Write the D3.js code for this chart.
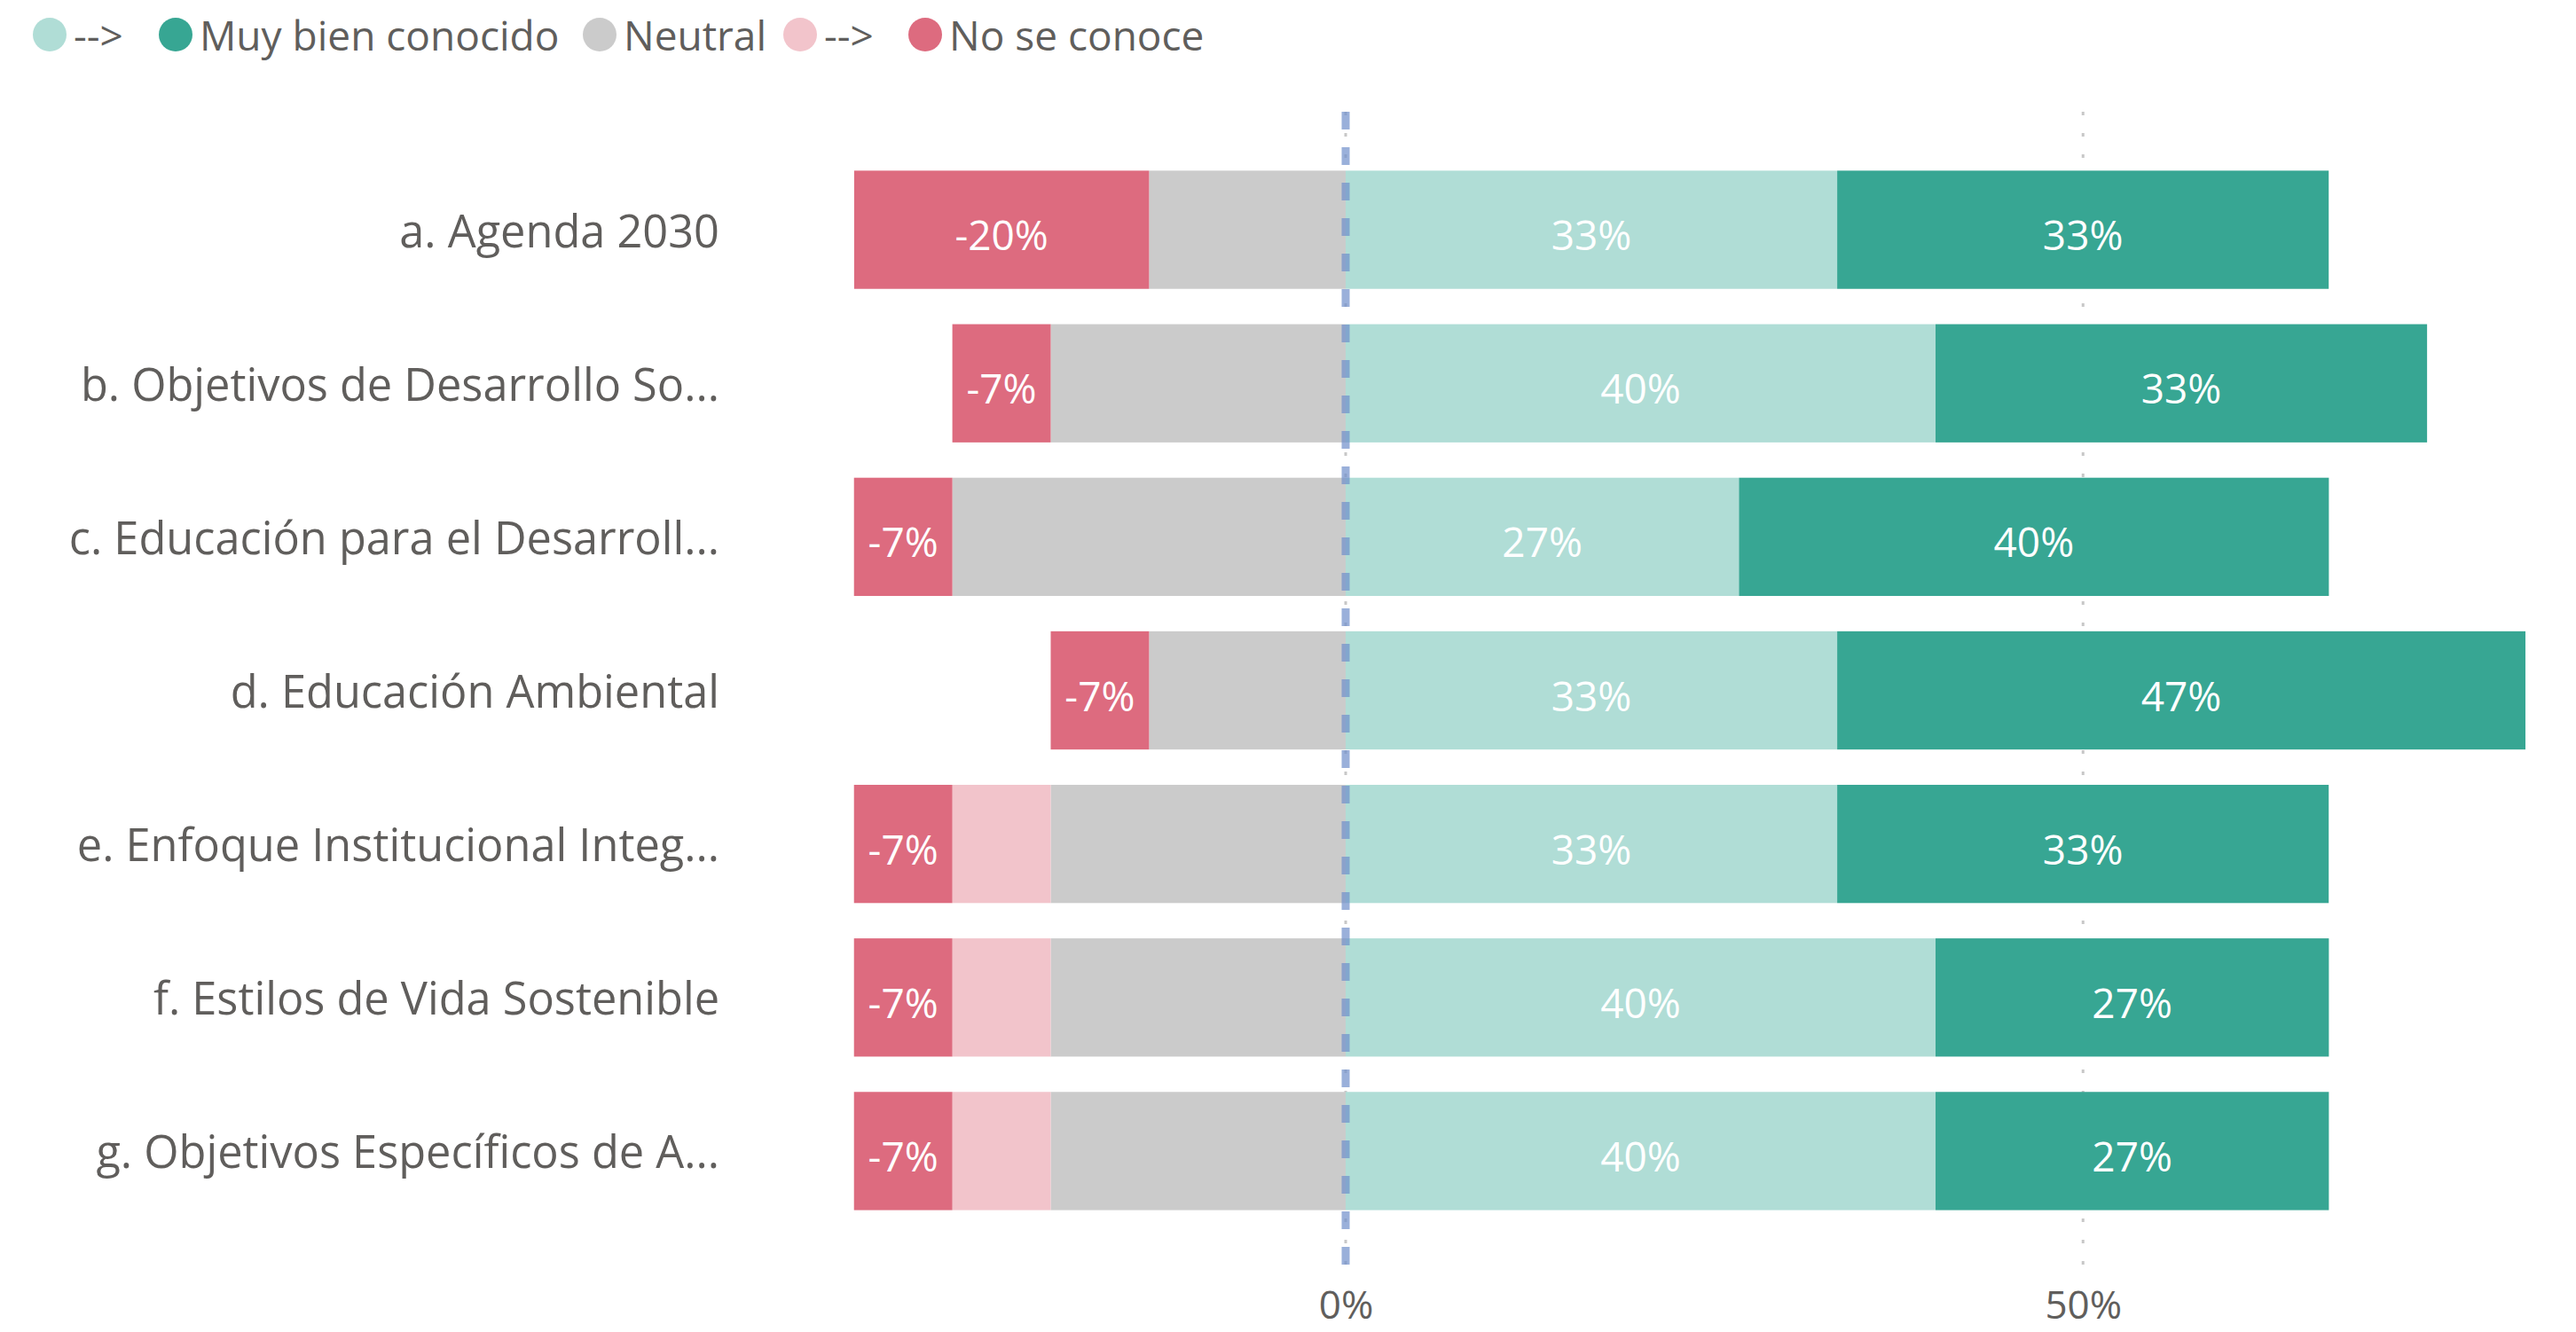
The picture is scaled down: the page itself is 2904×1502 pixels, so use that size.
<!DOCTYPE html>
<html>
<head>
<meta charset="utf-8">
<script src="https://cdn.jsdelivr.net/npm/d3@7"></script>
<style>
  html, body { margin: 0; padding: 0; background: #ffffff; }
  svg { display: block; }
  text { font-family: "Segoe UI", "Open Sans", "Noto Sans", sans-serif; }
</style>
</head>
<body>
<script>
// ---- data (percent of respondents) ----
const categories = [
  "a. Agenda 2030",
  "b. Objetivos de Desarrollo So...",
  "c. Educación para el Desarroll...",
  "d. Educación Ambiental",
  "e. Enfoque Institucional Integ...",
  "f. Estilos de Vida Sostenible",
  "g. Objetivos Específicos de A..."
];
const noSeConoce   = [20, 6.67, 6.67, 6.67, 6.67, 6.67, 6.67];
const arrowNeg     = [0, 0, 0, 0, 6.67, 6.67, 6.67];
const neutral      = [13.33, 20, 26.67, 13.33, 20, 20, 20];
const arrowPos     = [33.33, 40, 26.67, 33.33, 33.33, 40, 40];
const muyBien      = [33.33, 33.33, 40, 46.67, 33.33, 26.67, 26.67];
const tickValues   = [0, 50];
const legendItems  = ["-->", "Muy bien conocido", "Neutral", "-->", "No se conoce"];

const colors = {
  arrowPos: "#B0DDD6",
  muyBien: "#37A693",
  neutral: "#CBCBCB",
  arrowNeg: "#F2C4CB",
  noSeConoce: "#DD6B7F"
};
const legendColors = [colors.arrowPos, colors.muyBien, colors.neutral, colors.arrowNeg, colors.noSeConoce];

const W = 2904, H = 1502;
const svg = d3.select("body").append("svg").attr("width", W).attr("height", H);

const x = d3.scaleLinear().domain([-40, 80]).range([852, 2847]);
const y = d3.scaleBand().domain(categories).range([172.5, 1384.5]).paddingInner(0.23).paddingOuter(0.115);

const plotTop = 126, plotBottom = 1436;

// gridlines
svg.append("g").selectAll("line").data(tickValues).join("line")
  .attr("x1", d => x(d)).attr("x2", d => x(d))
  .attr("y1", plotTop).attr("y2", plotBottom)
  .attr("stroke", "#C8C8C8").attr("stroke-width", 3)
  .attr("stroke-dasharray", "4,20");

// build segments
const segs = [];
categories.forEach((c, i) => {
  let left = 0;
  [["neutral", neutral[i], false], ["arrowNeg", arrowNeg[i], false], ["noSeConoce", noSeConoce[i], true]].forEach(([k, v, lab]) => {
    if (v > 0) segs.push({cat: c, key: k, x0: left - v, x1: left, label: lab ? "-" + Math.round(v) + "%" : null});
    left -= v;
  });
  let right = 0;
  [["arrowPos", arrowPos[i], true], ["muyBien", muyBien[i], true]].forEach(([k, v, lab]) => {
    if (v > 0) segs.push({cat: c, key: k, x0: right, x1: right + v, label: lab ? Math.round(v) + "%" : null});
    right += v;
  });
});

svg.append("g").selectAll("rect").data(segs).join("rect")
  .attr("x", d => x(d.x0))
  .attr("width", d => x(d.x1) - x(d.x0))
  .attr("y", d => y(d.cat))
  .attr("height", y.bandwidth())
  .attr("fill", d => colors[d.key]);

svg.append("g").selectAll("text").data(segs.filter(d => d.label)).join("text")
  .attr("x", d => (x(d.x0) + x(d.x1)) / 2)
  .attr("y", d => y(d.cat) + y.bandwidth() / 2 + 5)
  .attr("text-anchor", "middle")
  .attr("dominant-baseline", "central")
  .attr("fill", "#ffffff")
  .attr("font-size", 46)
  .text(d => d.label);

// zero dashed line
svg.append("line")
  .attr("x1", x(0)).attr("x2", x(0))
  .attr("y1", plotTop).attr("y2", plotBottom)
  .attr("stroke", "#6F8FCB").attr("stroke-opacity", 0.7)
  .attr("stroke-width", 9).attr("stroke-dasharray", "20,20");

// category labels
svg.append("g").selectAll("text").data(categories).join("text")
  .attr("x", 811)
  .attr("y", d => y(d) + y.bandwidth() / 2)
  .attr("text-anchor", "end")
  .attr("dominant-baseline", "central")
  .attr("fill", "#605E5C")
  .attr("font-size", 50.5)
  .text(d => d);

// x axis
const xAxis = d3.axisBottom(x).tickValues(tickValues).tickFormat(d => d + "%").tickSize(0).tickPadding(0);
const ax = svg.append("g").attr("transform", `translate(0, 1487)`).call(xAxis);
ax.select(".domain").remove();
ax.selectAll("text").attr("font-size", 44).attr("fill", "#605E5C")
  .attr("dy", null).attr("y", 0).attr("dominant-baseline", "alphabetic")
  .style("font-family", "'Segoe UI', 'Open Sans', 'Noto Sans', sans-serif");

// legend
const legendX = [56, 198, 676, 902, 1043];
const lg = svg.append("g").selectAll("g").data(legendItems).join("g")
  .attr("transform", (d, i) => `translate(${legendX[i]}, 39)`);
lg.append("circle").attr("r", 19).attr("fill", (d, i) => legendColors[i]);
lg.append("text").attr("x", 27).attr("y", 0)
  .attr("dominant-baseline", "central")
  .attr("fill", "#605E5C").attr("font-size", 46)
  .text(d => d);
</script>
</body>
</html>
